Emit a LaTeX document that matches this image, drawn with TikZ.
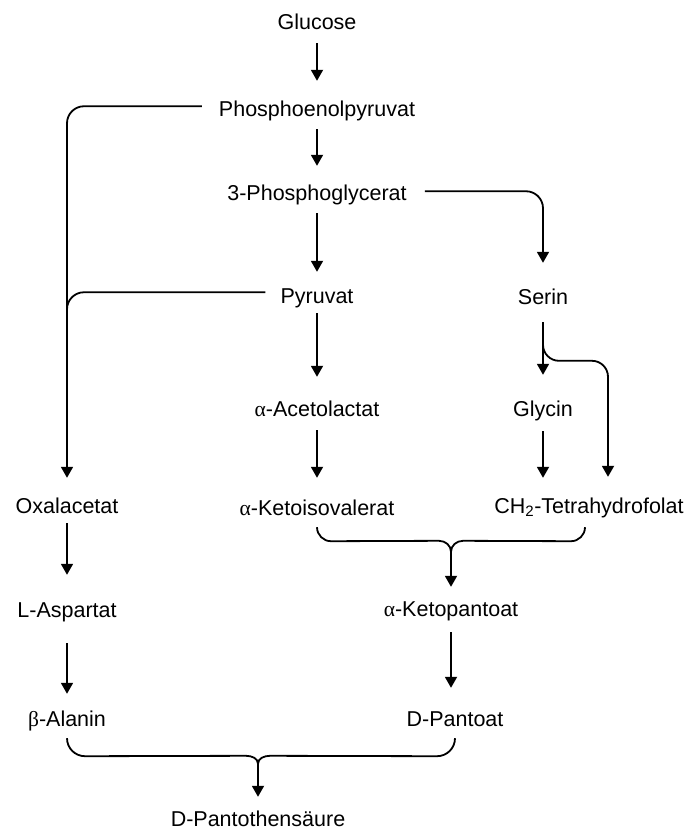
\documentclass[tikz,border=0pt]{standalone}
\usepackage{fontspec}
\setmainfont{Liberation Sans}
\newfontfamily\greekfont{Liberation Serif}
\usetikzlibrary{arrows.meta}
\tikzset{
  lbl/.style={anchor=base,inner sep=0pt,text height=16pt,text depth=4.5pt,font=\fontsize{21.5}{26}\selectfont},
  conn/.style={line width=1.8pt},
  arr/.style={conn,-{Triangle[width=12pt,length=11pt]}}
}
\newcommand{\al}{{\greekfont α}}
\newcommand{\be}{{\greekfont β}}
\begin{document}
\begin{tikzpicture}[x=1pt,y=-1pt]
\useasboundingbox (0,0) rectangle (687,830);
\node[lbl] (glc)  at (317,29)  {Glucose};
\node[lbl] (pep)  at (317,116) {Phosphoenolpyruvat};
\node[lbl] (pg)   at (317,200) {3-Phosphoglycerat};
\node[lbl] (pyr)  at (317,303) {Pyruvat};
\node[lbl] (ser)  at (543,304) {Serin};
\node[lbl] (acet) at (317,416) {\al-Acetolactat};
\node[lbl] (gly)  at (543,416) {Glycin};
\node[lbl] (oxa)  at (67,513)  {Oxalacetat};
\node[lbl] (kiv)  at (317,515) {\al-Ketoisovalerat};
\node[lbl] (ch2)  at (589,513) {CH\textsubscript{2}-Tetrahydrofolat};
\node[lbl] (asp)  at (67,617)  {L-Aspartat};
\node[lbl] (kp)   at (451,616) {\al-Ketopantoat};
\node[lbl] (ala)  at (67,726)  {\be-Alanin};
\node[lbl] (dp)   at (455,726) {D-Pantoat};
\node[lbl] (dpa)  at (258,826) {D-Pantothensäure};

% main column
\draw[arr] ([yshift=-9.5pt]glc.south) -- ([yshift=19pt]pep.north);
\draw[arr] ([yshift=-8.5pt]pep.south) -- ([yshift=18pt]pg.north);
\draw[arr] ([yshift=-8.5pt]pg.south) -- ([yshift=15pt]pyr.north);
\draw[arr] ([yshift=-5.5pt]pyr.south) -- ([yshift=23pt]pyr.south |- acet.north);
\draw[arr] ([yshift=-9.5pt]acet.south) -- ([yshift=21pt]acet.south |- kiv.north);

% left branch
\draw[arr,rounded corners=17pt] ([xshift=-17pt,yshift=4pt]pep.west) -| ([yshift=19pt]oxa.north);
\draw[conn,rounded corners=17pt] ([xshift=-15pt,yshift=5pt]pyr.west) -| ([yshift=170pt]oxa.north);
\draw[arr] ([yshift=-5.5pt]oxa.south) -- ([yshift=26pt]asp.north);
\draw[arr] ([yshift=-21.5pt]asp.south) -- ([yshift=16pt]ala.north);

% serine branch
\draw[arr,rounded corners=17pt] ([xshift=18pt,yshift=3pt]pg.east) -| ([yshift=25pt]ser.north);
\draw[arr] ([yshift=-13.5pt]ser.south) -- ([yshift=25pt]gly.north);
\draw[arr,rounded corners=16pt] ([yshift=-30pt]ser.south) |- ([xshift=19pt,yshift=136pt]ch2.north) -- ([xshift=19pt,yshift=20pt]ch2.north);
\draw[arr] ([yshift=-10.5pt]gly.south) -- ([yshift=19pt]gly.south |- ch2.north);

% upper bracket
\coordinate (b1l) at ([yshift=-7.5pt]kiv.south);
\coordinate (b1r) at ([xshift=-4pt,yshift=-9.5pt]ch2.south);
\coordinate (b1c) at ([yshift=48pt]kp.north);
\draw[conn] (b1l) to[out=-90,in=180] ++(14,14) -- ([xshift=-12pt,yshift=11pt]b1c) to[out=0,in=90] (b1c);
\draw[conn] (b1r) to[out=-90,in=0] ++(-14,14) -- ([xshift=12pt,yshift=11pt]b1c) to[out=180,in=90] (b1c);
\draw[arr] (b1c) -- ([yshift=13pt]kp.north);
\draw[arr] ([yshift=-11.5pt]kp.south) -- ([yshift=22pt]kp.south |- dp.north);

% lower bracket
\coordinate (b2l) at ([yshift=-7.5pt]ala.south);
\coordinate (b2r) at ([yshift=-7.5pt]dp.south);
\coordinate (b2c) at ([yshift=46pt]dpa.north);
\draw[conn] (b2l) to[out=-90,in=180] ++(18,18) -- ([xshift=-12pt,yshift=8pt]b2c) to[out=0,in=90] (b2c);
\draw[conn] (b2r) to[out=-90,in=0] ++(-18,18) -- ([xshift=12pt,yshift=8pt]b2c) to[out=180,in=90] (b2c);
\draw[arr] (b2c) -- ([yshift=13pt]dpa.north);
\end{tikzpicture}
\end{document}
